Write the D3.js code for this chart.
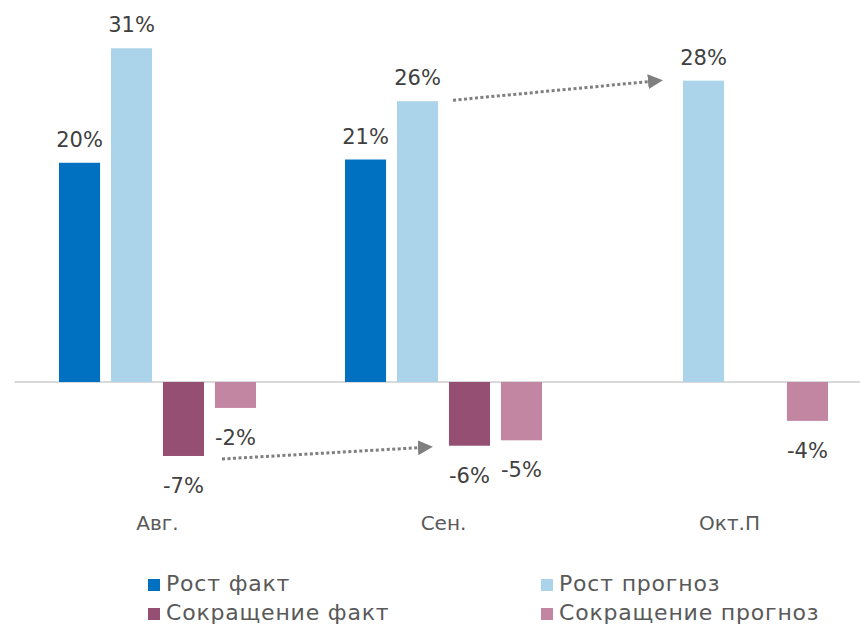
<!DOCTYPE html>
<html lang="ru">
<head>
    <meta charset="UTF-8">
    <title>Рост и сокращение</title>
    <script src="https://cdnjs.cloudflare.com/ajax/libs/d3/7.8.5/d3.min.js"></script>
    <style>
        body {
            margin: 0;
            background: #fff;
        }

        svg text {
            font-family: "Century Gothic", "DejaVu Sans", sans-serif;
        }

        text.value {
            font-size: 21px;
            fill: #404040;
        }

        text.category {
            font-size: 20px;
            fill: #595959;
        }

        text.legend {
            font-size: 22px;
            letter-spacing: 0.8px;
            fill: #595959;
        }
    </style>
</head>
<body>
<svg width="860" height="626"></svg>

<script>
    // data (percent)
    const categories = ["Авг.", "Сен.", "Окт.П"];
    const series = ["Рост факт", "Рост прогноз", "Сокращение факт", "Сокращение прогноз"];
    const colors = ["#0070c0", "#abd4ea", "#954f72", "#c285a2"];

    const growthFact = [20.3, 20.6, null];
    const growthForecast = [30.9, 26.0, 27.9];
    const cutFact = [-6.85, -5.9, null];
    const cutForecast = [-2.4, -5.4, -3.6];

    const values = [growthFact, growthForecast, cutFact, cutForecast];

    const svg = d3.select("svg");

    const x0 = d3.scaleBand().domain(categories).range([14.5, 872.5]);
    const x1 = d3.scaleBand().domain(series).range([44.5, 241.5]).paddingInner(0.21);
    const y = d3.scaleLinear().domain([-10, 30]).range([490, 58]);

    const bars = [];
    categories.forEach((c, i) => {
        series.forEach((s, j) => {
            const v = values[j][i];
            if (v !== null) bars.push({category: c, series: s, color: colors[j], value: v});
        });
    });

    const barX = d => x0(d.category) + x1(d.series);
    const fmt = v => Math.round(v) + "%";

    // zero line
    svg.append("line")
        .attr("x1", x0.range()[0]).attr("x2", 860)
        .attr("y1", y(0)).attr("y2", y(0))
        .attr("stroke", "#d9d9d9")
        .attr("stroke-width", 2);

    svg.selectAll("rect.bar")
        .data(bars)
        .enter().append("rect")
        .attr("class", "bar")
        .attr("x", barX)
        .attr("y", d => y(Math.max(0, d.value)))
        .attr("width", x1.bandwidth())
        .attr("height", d => Math.abs(y(d.value) - y(0)))
        .attr("fill", d => d.color);

    svg.selectAll("text.value")
        .data(bars)
        .enter().append("text")
        .attr("class", "value")
        .attr("text-anchor", "middle")
        .attr("x", d => barX(d) + x1.bandwidth() / 2)
        .attr("y", d => d.value >= 0 ? y(d.value) - 16 : y(d.value) + 37)
        .text(d => fmt(d.value));

    svg.selectAll("text.category")
        .data(categories)
        .enter().append("text")
        .attr("class", "category")
        .attr("text-anchor", "middle")
        .attr("x", d => x0(d) + x0.bandwidth() / 2)
        .attr("y", 530)
        .text(d => d);

    // dotted trend arrows
    svg.append("defs").append("marker")
        .attr("id", "head")
        .attr("viewBox", "0 0 10 10")
        .attr("refX", 0).attr("refY", 5)
        .attr("markerWidth", 15).attr("markerHeight", 15)
        .attr("markerUnits", "userSpaceOnUse")
        .attr("orient", "auto")
        .append("path")
        .attr("d", "M0,0L10,5L0,10Z")
        .attr("fill", "#7f7f7f");

    const arrows = [
        {
            x1: x0("Сен.") + x1("Рост прогноз") + x1.bandwidth() + 15, y1: y(growthForecast[1]) - 1,
            x2: x0("Окт.П") + x1("Рост прогноз") - 35, y2: y(growthForecast[2]) + 1
        },
        {
            x1: x0("Авг.") + x1("Сокращение факт") + x1.bandwidth() + 18, y1: y(cutFact[0]) + 3,
            x2: x0("Сен.") + x1("Сокращение факт") - 31, y2: y(cutFact[1]) + 2
        }
    ];

    svg.selectAll("line.arrow")
        .data(arrows)
        .enter().append("line")
        .attr("class", "arrow")
        .attr("x1", d => d.x1).attr("y1", d => d.y1)
        .attr("x2", d => d.x2).attr("y2", d => d.y2)
        .attr("stroke", "#7f7f7f")
        .attr("stroke-width", 3)
        .attr("stroke-dasharray", "3,2.5")
        .attr("marker-end", "url(#head)");

    // legend, two columns
    const legend = svg.selectAll("g.legend")
        .data(series)
        .enter().append("g")
        .attr("class", "legend")
        .attr("transform", (d, i) => `translate(${i % 2 === 0 ? 148 : 541},${i < 2 ? 579 : 608})`);

    legend.append("rect")
        .attr("width", 12).attr("height", 12)
        .attr("fill", (d, i) => colors[i]);

    legend.append("text")
        .attr("class", "legend")
        .attr("x", 18)
        .attr("y", 12)
        .text(d => d);
</script>
</body>
</html>
